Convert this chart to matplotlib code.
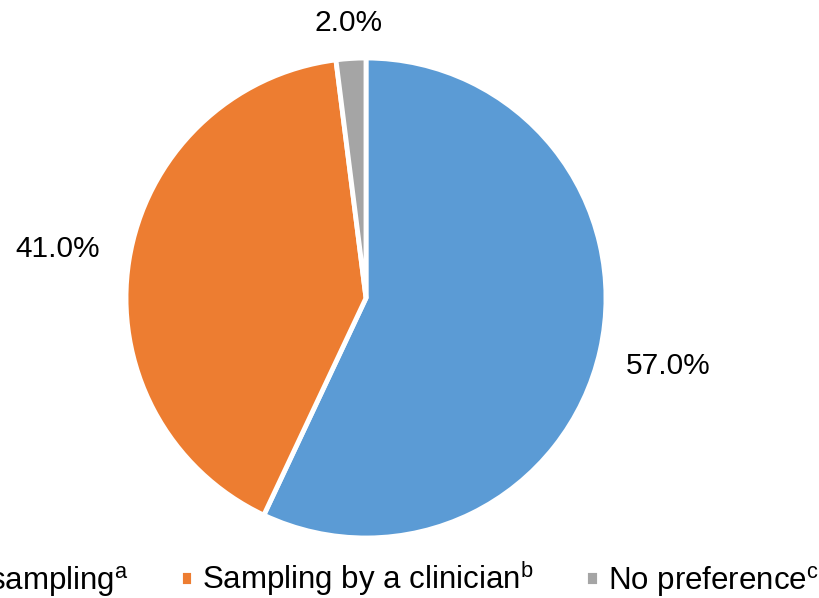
import matplotlib
matplotlib.use("Agg")
import matplotlib.pyplot as plt
import numpy as np

categories = ["Self-sampling", "Sampling by a clinician", "No preference"]
superscripts = ["a", "b", "c"]
values = [57.0, 41.0, 2.0]
colors = ["#5B9BD5", "#ED7D31", "#A5A5A5"]

plt.rcParams['font.family'] = ['Liberation Sans', 'DejaVu Sans']
plt.rcParams['mathtext.fontset'] = 'custom'
plt.rcParams['mathtext.rm'] = 'Liberation Sans'

W, H = 819, 598
fig = plt.figure(figsize=(W/100, H/100), dpi=100)
cx, cy, r = 366, 298, 240
ax = fig.add_axes([(cx - r)/W, 1 - (cy + r)/H, 2*r/W, 2*r/H])

wedges, _ = ax.pie(values, colors=colors, startangle=90, counterclock=False,
                   wedgeprops=dict(edgecolor='white', linewidth=3.5))
ax.set_xlim(-1, 1)
ax.set_ylim(-1, 1)
ax.set_aspect('equal')

dists = [1.29, 1.30, 1.15]
for w, v, d in zip(wedges, values, dists):
    ang = np.deg2rad((w.theta1 + w.theta2) / 2)
    ax.text(d*np.cos(ang), d*np.sin(ang), f"{v:.1f}%", ha='center', va='center',
            fontsize=21.5, clip_on=False)

labels = [f"{c}$^{{\\mathrm{{{s}}}}}$" for c, s in zip(categories, superscripts)]
leg = fig.legend(wedges, labels, loc='center', ncol=3, frameon=False,
                 bbox_to_anchor=(0.44, 1 - 579/H), fontsize=22.5,
                 handlelength=0.42, handleheight=0.42, handletextpad=0.3,
                 columnspacing=1.65)

fig.savefig("out.png", dpi=100)
